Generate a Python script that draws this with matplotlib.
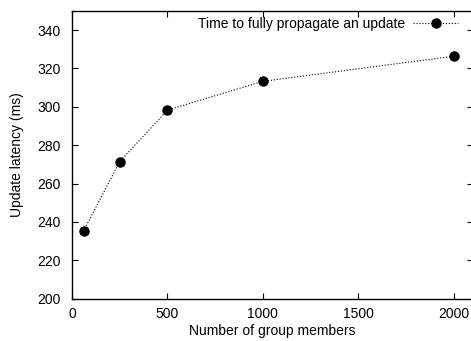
import matplotlib
matplotlib.use("Agg")
import matplotlib.pyplot as plt

plt.rcParams["font.family"] = ["Liberation Sans", "DejaVu Sans"]
plt.rcParams["font.size"] = 10

# group size vs. time for an update to reach every member
members = [60, 250, 500, 1000, 2000]
latency = [235.3, 271.5, 298.3, 313.3, 326.4]

fig = plt.figure(figsize=(4.71, 3.41), dpi=100)
ax = fig.add_axes([0.153, 0.124, 0.851, 0.844])

ax.plot(members, latency, color="black", linestyle=":", linewidth=0.8,
        marker="o", markersize=6.5, label="Time to fully propagate an update")

ax.set_xlim(0, 2100)
ax.set_ylim(200, 350)
ax.set_xticks([0, 500, 1000, 1500, 2000])
ax.set_yticks(range(200, 341, 20))
ax.tick_params(direction="in", top=True, right=True, length=4, width=0.8)
ax.tick_params(axis="y", pad=8)
ax.tick_params(axis="x", pad=6)
for s in ax.spines.values():
    s.set_linewidth(1.0)

ax.set_xlabel("Number of group members", labelpad=2)
ax.set_ylabel("Update latency (ms)", labelpad=10)

leg = ax.legend(loc="upper right", frameon=False, markerfirst=False,
                handlelength=3.2, handletextpad=0.6,
                bbox_to_anchor=(0.978, 1.0), borderaxespad=0.05)

fig.savefig("out.png", dpi=100)
